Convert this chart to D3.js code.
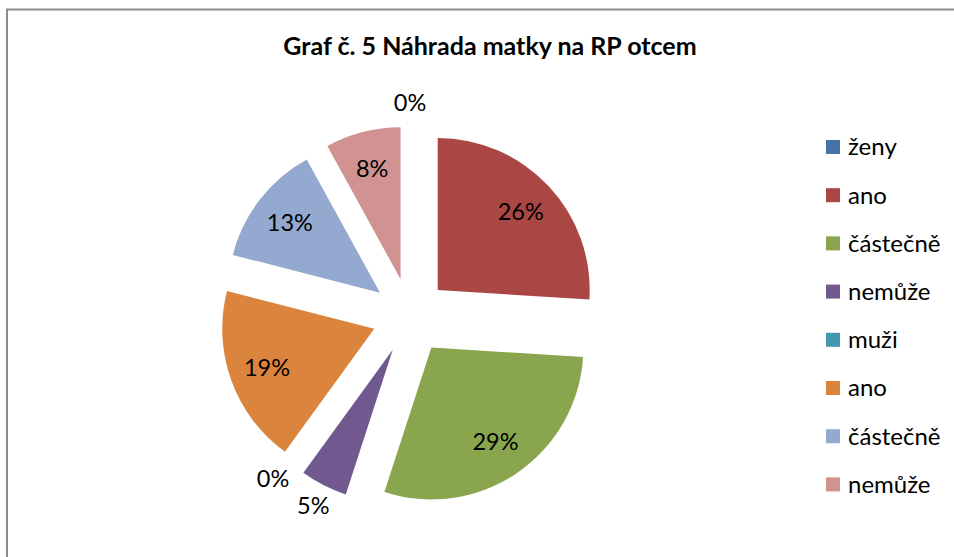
<!DOCTYPE html>
<html lang="cs">
<head>
<meta charset="utf-8">
<title>Graf č. 5 Náhrada matky na RP otcem</title>
<script src="https://d3js.org/d3.v7.min.js"></script>
<style>
body { margin: 0; background: #fff; }
text { font-family: Lato, "Open Sans", sans-serif; fill: #000; }
.title { font-weight: bold; font-size: 25px; }
.label { font-size: 23.5px; }
.legend text { font-size: 24px; }
</style>
</head>
<body>
<script>

var categories = ["ženy", "ano", "částečně", "nemůže", "muži", "ano", "částečně", "nemůže"];
var values = [0, 26, 29, 5, 0, 19, 13, 8];
var colors = ["#4572A7", "#AA4643", "#89A54E", "#71588F", "#4198AF", "#DB843D", "#93A9CF", "#D19392"];

var width = 954,
    height = 557;

var cx = 410, cy = 316,
    radius = 152,
    explode = 38,
    labelIn = 152,
    labelOut = 213;

var svg = d3.select("body").append("svg")
    .attr("width", width)
    .attr("height", height);

// frame
svg.append("rect")
    .attr("x", 7)
    .attr("y", 9.5)
    .attr("width", width)
    .attr("height", height)
    .attr("fill", "none")
    .attr("stroke", "#8c8c8c")
    .attr("stroke-width", 2);

svg.append("text")
    .attr("class", "title")
    .attr("x", 490)
    .attr("y", 55)
    .attr("text-anchor", "middle")
    .text("Graf č. 5 Náhrada matky na RP otcem");

var data = categories.map(function(c, i) {
  return { name: c, value: values[i], color: colors[i] };
});

var pie = d3.pie()
    .sort(null)
    .value(function(d) { return d.value; });

var arc = d3.arc()
    .innerRadius(0)
    .outerRadius(radius);

var arcs = pie(data);

function mid(d) { return (d.startAngle + d.endAngle) / 2; }

var g = svg.append("g")
    .attr("transform", "translate(" + cx + "," + cy + ")");

g.selectAll("path")
    .data(arcs.filter(function(d) { return d.value > 0; }))
  .enter().append("path")
    .attr("d", arc)
    .attr("fill", function(d) { return d.data.color; })
    .attr("transform", function(d) {
      var a = mid(d);
      return "translate(" + (Math.sin(a) * explode) + "," + (-Math.cos(a) * explode) + ")";
    });

var labels = g.selectAll(".label")
    .data(arcs)
  .enter().append("text")
    .attr("class", "label")
    .attr("text-anchor", "middle")
    .attr("dy", "0.35em")
    .text(function(d) { return d.data.value + "%"; });

// place labels; small slices go outside and are turned clockwise if they collide
var placed = [], pad = 6;
labels.each(function(d) {
  var el = d3.select(this),
      outside = d.data.value < 6,
      r = outside ? labelOut : labelIn,
      a = mid(d);
  el.attr("x", Math.sin(a) * r).attr("y", -Math.cos(a) * r);
  if (!outside) return;
  var box = this.getBBox();
  function hits(b) {
    return placed.some(function(p) {
      return b.x < p.x + p.width + pad && b.x + b.width + pad > p.x &&
             b.y < p.y + p.height && b.y + b.height > p.y;
    });
  }
  var tries = 0;
  while (hits(box) && tries < 60) {
    a += Math.PI / 180;
    el.attr("x", Math.sin(a) * r).attr("y", -Math.cos(a) * r);
    box = this.getBBox();
    tries++;
  }
  placed.push(box);
});

var legend = svg.append("g")
    .attr("class", "legend")
    .attr("transform", "translate(826,147)");

var item = legend.selectAll("g")
    .data(data)
  .enter().append("g")
    .attr("transform", function(d, i) { return "translate(0," + (i * 48.2) + ")"; });

item.append("rect")
    .attr("x", 0)
    .attr("y", -7)
    .attr("width", 14)
    .attr("height", 14)
    .attr("fill", function(d) { return d.color; });

item.append("text")
    .attr("x", 22)
    .attr("dy", "0.35em")
    .text(function(d) { return d.name; });

</script>
</body>
</html>
